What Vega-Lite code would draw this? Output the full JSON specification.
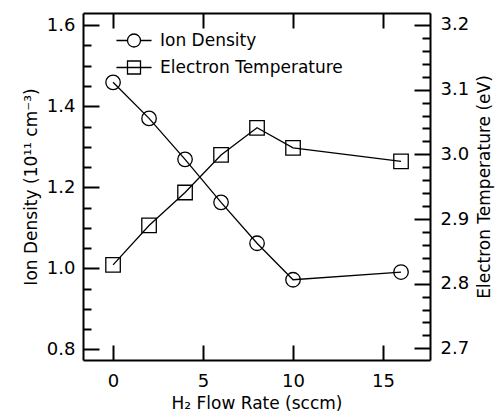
{
  "$schema": "https://vega.github.io/schema/vega-lite/v6.json",
  "width": 347,
  "height": 347,
  "autosize": {"type": "none"},
  "padding": {"left": 83, "top": 13, "right": 68, "bottom": 57},
  "background": "white",
  "config": {
    "view": {"stroke": null},
    "font": "DejaVu Sans",
    "axis": {
      "domainColor": "black",
      "domainWidth": 2,
      "tickColor": "black",
      "tickWidth": 2,
      "labelColor": "black",
      "labelFontSize": 18,
      "labelFont": "DejaVu Sans",
      "titleFont": "DejaVu Sans",
      "titleFontSize": 17,
      "titleFontWeight": "normal",
      "titleColor": "black",
      "grid": false,
      "labelOverlap": false,
      "labelFlush": false
    },
    "legend": {
      "title": null,
      "orient": "none",
      "padding": 0,
      "symbolSize": 169,
      "symbolStrokeColor": "black",
      "symbolStrokeWidth": 1.3,
      "symbolFillColor": "transparent",
      "symbolOffset": 11,
      "labelOffset": 17.5,
      "labelFontSize": 17,
      "labelFont": "DejaVu Sans",
      "labelColor": "black",
      "labelLimit": 0
    }
  },
  "data": {
    "values": [
      {"flow": 0, "series": "Ion Density", "value": 1.459},
      {"flow": 2, "series": "Ion Density", "value": 1.370},
      {"flow": 4, "series": "Ion Density", "value": 1.269},
      {"flow": 6, "series": "Ion Density", "value": 1.163},
      {"flow": 8, "series": "Ion Density", "value": 1.062},
      {"flow": 10, "series": "Ion Density", "value": 0.972},
      {"flow": 16, "series": "Ion Density", "value": 0.991},
      {"flow": 0, "series": "Electron Temperature", "value": 2.829},
      {"flow": 2, "series": "Electron Temperature", "value": 2.890},
      {"flow": 4, "series": "Electron Temperature", "value": 2.941},
      {"flow": 6, "series": "Electron Temperature", "value": 2.999},
      {"flow": 8, "series": "Electron Temperature", "value": 3.041},
      {"flow": 10, "series": "Electron Temperature", "value": 3.010},
      {"flow": 16, "series": "Electron Temperature", "value": 2.989}
    ]
  },
  "layer": [
    {
      "transform": [{"filter": "datum.series === 'Ion Density'"}],
      "encoding": {
        "x": {
          "field": "flow",
          "type": "quantitative",
          "scale": {"domain": [-1.67, 17.61], "nice": false, "zero": false},
          "axis": {
            "orient": "bottom",
            "values": [0, 5, 10, 15],
            "tickSize": -15,
            "labelPadding": 27,
            "title": "H₂ Flow Rate (sccm)",
            "titlePadding": 5
          }
        },
        "y": {
          "field": "value",
          "type": "quantitative",
          "scale": {"domain": [0.774, 1.63], "nice": false, "zero": false},
          "axis": {
            "orient": "left",
            "values": [0.8, 0.85, 0.9, 0.95, 1.0, 1.05, 1.1, 1.15, 1.2, 1.25, 1.3, 1.35, 1.4, 1.45, 1.5, 1.55, 1.6],
            "tickSize": {"condition": {"test": "abs(datum.value*5 - round(datum.value*5)) < 0.001", "value": -16}, "value": -8},
            "labelExpr": "abs(datum.value*5 - round(datum.value*5)) < 0.001 ? format(datum.value, '.1f') : ''",
            "labelPadding": 24,
            "title": "Ion Density (10¹¹ cm⁻³)",
            "titlePadding": 6
          }
        }
      },
      "layer": [
        {"mark": {"type": "line", "color": "black", "strokeWidth": 1.3}},
        {
          "mark": {"type": "point", "shape": "circle", "filled": false, "strokeWidth": 1.3, "size": 210, "opacity": 1},
          "encoding": {
            "color": {
              "field": "series",
              "type": "nominal",
              "scale": {"range": ["black"]},
              "legend": {
                "legendX": 31.5,
                "legendY": 19,
                "symbolType": "M-2.7,0H-1M1,0H2.7M1,0A1,1,0,1,1,-1,0A1,1,0,1,1,1,0"
              }
            }
          }
        }
      ]
    },
    {
      "transform": [{"filter": "datum.series === 'Electron Temperature'"}],
      "encoding": {
        "x": {
          "field": "flow",
          "type": "quantitative",
          "scale": {"domain": [-1.67, 17.61], "nice": false, "zero": false},
          "axis": {
            "orient": "top",
            "values": [0, 5, 10, 15],
            "tickSize": -15,
            "labels": false,
            "title": null
          }
        },
        "y": {
          "field": "value",
          "type": "quantitative",
          "scale": {"domain": [2.682, 3.2185], "nice": false, "zero": false},
          "axis": {
            "orient": "right",
            "values": [2.7, 2.72, 2.74, 2.76, 2.78, 2.8, 2.82, 2.84, 2.86, 2.88, 2.9, 2.92, 2.94, 2.96, 2.98, 3.0, 3.02, 3.04, 3.06, 3.08, 3.1, 3.12, 3.14, 3.16, 3.18, 3.2],
            "tickSize": {"condition": {"test": "abs(datum.value*10 - round(datum.value*10)) < 0.001", "value": -16}, "value": -8},
            "labelExpr": "abs(datum.value*10 - round(datum.value*10)) < 0.001 ? format(datum.value, '.1f') : ''",
            "labelPadding": 26,
            "title": "Electron Temperature (eV)",
            "titleAngle": 270,
            "titlePadding": 25
          }
        }
      },
      "layer": [
        {"mark": {"type": "line", "color": "black", "strokeWidth": 1.3}},
        {
          "mark": {"type": "point", "shape": "square", "filled": false, "strokeWidth": 1.3, "size": 210, "opacity": 1},
          "encoding": {
            "color": {
              "field": "series",
              "type": "nominal",
              "scale": {"range": ["black"]},
              "legend": {
                "legendX": 31.5,
                "legendY": 46,
                "symbolType": "M-2.7,0H2.7M-1,-1H1V1H-1Z"
              }
            }
          }
        }
      ]
    }
  ],
  "resolve": {"scale": {"x": "independent", "y": "independent", "color": "independent"}}
}
